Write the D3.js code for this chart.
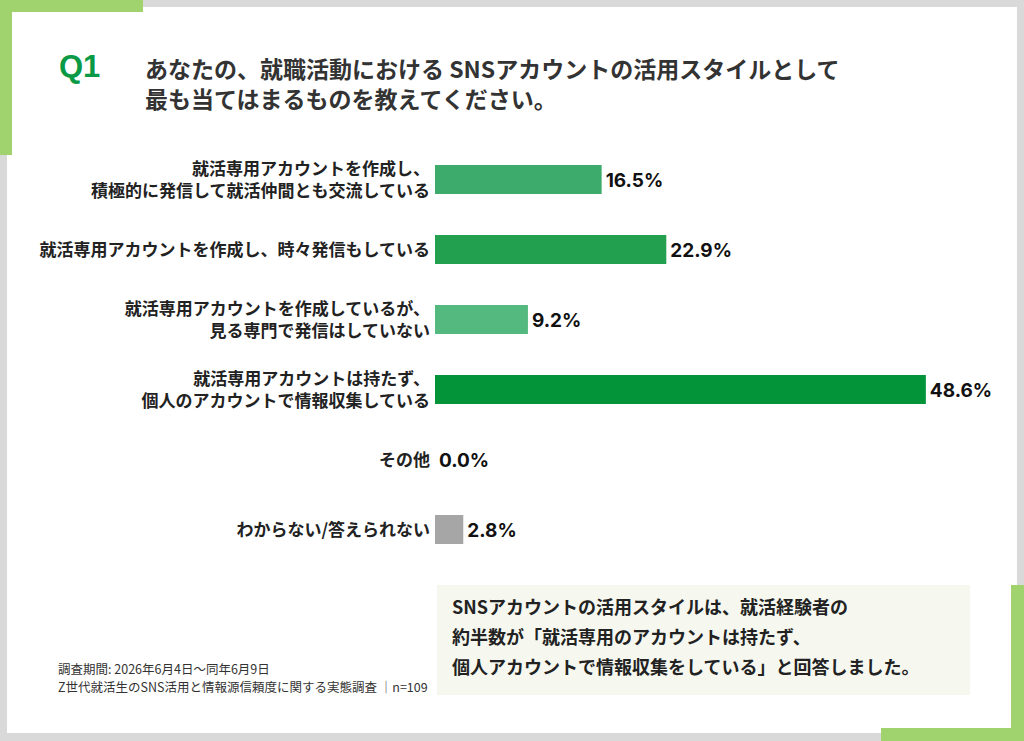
<!DOCTYPE html>
<html><head><meta charset="utf-8">
<script src="https://cdn.jsdelivr.net/npm/d3@7"></script>
<style>
html,body{margin:0;padding:0;background:#fff;}
svg{display:block;}
text{font-family:"Noto Sans CJK JP","Noto Sans",sans-serif;}
</style></head>
<body>
<svg id="chart" width="1024" height="741"></svg>
<script>
const categories = [
  "就活専用アカウントを作成し、\n積極的に発信して就活仲間とも交流している",
  "就活専用アカウントを作成し、時々発信もしている",
  "就活専用アカウントを作成しているが、\n見る専門で発信はしていない",
  "就活専用アカウントは持たず、\n個人のアカウントで情報収集している",
  "その他",
  "わからない/答えられない"
];
const values = [16.5, 22.9, 9.2, 48.6, 0.0, 2.8];
const barColors = ["#3dab6b", "#22a04f", "#53b97f", "#03943a", "#a6a6a6", "#a6a6a6"];
const titleLines = ["あなたの、就職活動における SNSアカウントの活用スタイルとして", "最も当てはまるものを教えてください。"];
const noteLines = ["SNSアカウントの活用スタイルは、就活経験者の", "約半数が「就活専用のアカウントは持たず、", "個人アカウントで情報収集をしている」と回答しました。"];
const footLines = ["調査期間: 2026年6月4日～同年6月9日", "Z世代就活生のSNS活用と情報源信頼度に関する実態調査 ｜n=109"];

const svg = d3.select("#chart");

// frame
const grey = "#d9d9d9", accent = "#a0d26d";
svg.append("rect").attr("x",0).attr("y",0).attr("width",1024).attr("height",7).attr("fill",grey);
svg.append("rect").attr("x",0).attr("y",733).attr("width",1024).attr("height",8).attr("fill",grey);
svg.append("rect").attr("x",0).attr("y",0).attr("width",7).attr("height",741).attr("fill",grey);
svg.append("rect").attr("x",1017).attr("y",0).attr("width",7).attr("height",741).attr("fill",grey);
// accents
svg.append("rect").attr("x",0).attr("y",0).attr("width",143).attr("height",12).attr("fill",accent);
svg.append("rect").attr("x",0).attr("y",0).attr("width",12).attr("height",155).attr("fill",accent);
svg.append("rect").attr("x",1011).attr("y",585).attr("width",13).attr("height",156).attr("fill",accent);
svg.append("rect").attr("x",881).attr("y",728).attr("width",143).attr("height",13).attr("fill",accent);

// title
svg.append("text").attr("x",59).attr("y",77).attr("fill","#0a9a45")
  .style("font-family","'Liberation Sans',Arial,sans-serif").style("font-weight",700).style("font-size","31px").text("Q1");
svg.append("g").selectAll("text").data(titleLines).join("text")
  .attr("x",145).attr("y",(d,i)=>78+i*30).attr("fill","#333")
  .style("font-weight",700).style("font-size","23px").text(d=>d);

// scales
const x = d3.scaleLinear().domain([0,50]).range([435,940]);
const y = d3.scaleBand().domain(categories).range([144.5,564.5]).paddingInner(0.586).paddingOuter(0.293);

const g = svg.append("g");
g.selectAll("rect.bar").data(values).join("rect").attr("class","bar")
  .attr("x",x(0)).attr("y",(d,i)=>y(categories[i]))
  .attr("width",d=>x(d)-x(0)).attr("height",y.bandwidth())
  .attr("fill",(d,i)=>barColors[i]);

g.selectAll("text.val").data(values).join("text").attr("class","val")
  .attr("x",d=>x(d)+4).attr("y",(d,i)=>y(categories[i])+y.bandwidth()/2+7)
  .attr("fill","#111").style("font-family","Inter,'Noto Sans',sans-serif")
  .style("font-weight",700).style("font-size","19px").text(d=>d.toFixed(1)+"%");

categories.forEach((c,i)=>{
  const lines = c.split("\n");
  const cy = y(c)+y.bandwidth()/2;
  const lh = 22;
  lines.forEach((ln,j)=>{
    g.append("text").attr("text-anchor","end").attr("fill","#222")
      .style("font-weight",700).style("font-size","17px")
      .attr("x",430).attr("y",cy+6+(j-(lines.length-1)/2)*lh).text(ln);
  });
});

// note box
svg.append("rect").attr("x",437).attr("y",585).attr("width",533).attr("height",110).attr("fill","#f6f8f0");
svg.append("g").selectAll("text").data(noteLines).join("text")
  .attr("x",452).attr("y",(d,i)=>614+i*30).attr("fill","#222")
  .style("font-weight",700).style("font-size","18px").text(d=>d);

// footnote
svg.append("g").selectAll("text").data(footLines).join("text")
  .attr("x",58).attr("y",(d,i)=>674+i*18).attr("fill","#333")
  .style("font-size","12.5px").text(d=>d);
</script>
</body></html>
